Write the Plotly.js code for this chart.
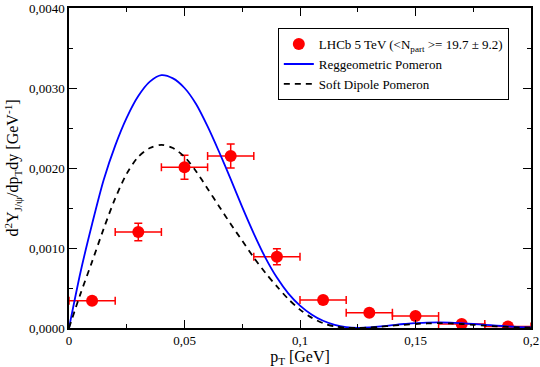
<!DOCTYPE html>
<html>
<head>
<meta charset="utf-8">
<script src="https://cdn.plot.ly/plotly-3.0.1.min.js"></script>
<style>body{margin:0;background:#fff}#chart{width:540px;height:367px}</style>
</head>
<body>
<div id="chart"></div>
<script>
// LHCb data points
let ptData = [0.01, 0.03, 0.05, 0.07, 0.09, 0.11, 0.13, 0.15, 0.17, 0.19];
let yData = [0.00034, 0.0012, 0.00201, 0.00215, 0.00089, 0.00035, 0.00019, 0.00015, 0.00005, 0.00002];
let yErr = [0.00003, 0.00011, 0.00015, 0.00015, 0.0001, 0.00004, 0.00002, 0.00002, 0.00001, 0.00001];
let xErr = [0.01, 0.01, 0.01, 0.01, 0.01, 0.01, 0.01, 0.01, 0.01, 0.01];

// model curves
let ptCurve = [0, 0.005, 0.01, 0.015, 0.02, 0.025, 0.03, 0.035, 0.04, 0.045, 0.05, 0.055, 0.06, 0.065, 0.07,
  0.075, 0.08, 0.085, 0.09, 0.095, 0.1, 0.105, 0.11, 0.115, 0.12, 0.125, 0.13, 0.135, 0.14, 0.145, 0.15,
  0.155, 0.16, 0.165, 0.17, 0.175, 0.18, 0.185, 0.19, 0.195, 0.2];
let yRegge = [0, 0.0007, 0.0013, 0.00185, 0.00228, 0.00263, 0.0029, 0.00308, 0.00316, 0.00312, 0.003, 0.0028,
  0.00252, 0.0022, 0.00186, 0.00151, 0.00118, 0.00088, 0.00063, 0.00043, 0.00028, 0.00017, 0.00009, 0.00004,
  0.000012, 0.000002, 0.000006, 0.00002, 0.000035, 0.00005, 0.00006, 0.000068, 0.00007, 0.000068, 0.00006,
  0.00005, 0.00004, 0.00003, 0.00002, 0.000012, 0.000006];
let yDipole = [0, 0.00043, 0.00083, 0.00124, 0.00162, 0.00193, 0.00214, 0.00225, 0.00229, 0.00225, 0.00214,
  0.00196, 0.00174, 0.00152, 0.0013, 0.00109, 0.00088, 0.00069, 0.00052, 0.00036, 0.00023, 0.00013, 0.00006,
  0.00002, 0.000004, 0.000001, 0.000005, 0.000015, 0.00003, 0.00004, 0.00005, 0.000057, 0.00006, 0.000058,
  0.00005, 0.00004, 0.00003, 0.00002, 0.000014, 0.000009, 0.000005];

let serif = 'serif';

let data = [
  {
    x: ptData, y: yData, mode: 'markers', type: 'scatter',
    name: 'LHCb 5 TeV (&lt;N<sub>part</sub> &gt;= 19.7 ± 9.2)',
    marker: {color: '#ff0000', size: 12},
    error_y: {type: 'data', array: yErr, color: '#ff0000', thickness: 1.5, width: 4},
    error_x: {type: 'data', array: xErr, color: '#ff0000', thickness: 1.5, width: 4}
  },
  {
    x: ptCurve, y: yRegge, mode: 'lines', type: 'scatter', name: 'Reggeometric Pomeron',
    line: {color: '#0000ff', width: 1.8, shape: 'spline', smoothing: 0.8}
  },
  {
    x: ptCurve, y: yDipole, mode: 'lines', type: 'scatter', name: 'Soft Dipole Pomeron',
    line: {color: '#000000', width: 1.8, dash: '6px,5px', shape: 'spline', smoothing: 0.8}
  }
];

let axisCommon = {
  showline: true, linecolor: '#000', linewidth: 1.5, mirror: 'ticks',
  ticks: 'inside', ticklen: 8, tickwidth: 1, tickcolor: '#000',
  showgrid: false, zeroline: false,
  tickfont: {family: serif, size: 13, color: '#000'}
};

let layout = {
  width: 540, height: 367,
  margin: {l: 69, r: 9, t: 8, b: 39},
  separators: ', ',
  paper_bgcolor: '#fff', plot_bgcolor: '#fff',
  font: {family: serif, color: '#000'},
  showlegend: true,
  legend: {
    x: 0.452, y: 0.937, xanchor: 'left', yanchor: 'top',
    bordercolor: '#000', borderwidth: 1, bgcolor: '#fff',
    font: {family: serif, size: 13, color: '#000'},
    tracegroupgap: 0
  },
  xaxis: Object.assign({}, axisCommon, {
    range: [0, 0.2], dtick: 0.05, tick0: 0,
    minor: {dtick: 0.025, ticks: 'inside', ticklen: 4, tickcolor: '#000'},
    title: {text: 'p<sub>T</sub> [GeV]', font: {family: serif, size: 16}, standoff: 4}
  }),
  yaxis: Object.assign({}, axisCommon, {
    range: [0, 0.004], dtick: 0.001, tick0: 0, tickformat: '.4f',
    minor: {dtick: 0.0005, ticks: 'inside', ticklen: 4, tickcolor: '#000'},
    title: {text: 'd<sup>2</sup>Y<sub>J/ψ</sub>/dp<sub>T</sub>dy [GeV<sup>-1</sup>]', font: {family: serif, size: 16}, standoff: 6}
  })
};

Plotly.newPlot('chart', data, layout, {displayModeBar: false});
</script>
</body>
</html>
